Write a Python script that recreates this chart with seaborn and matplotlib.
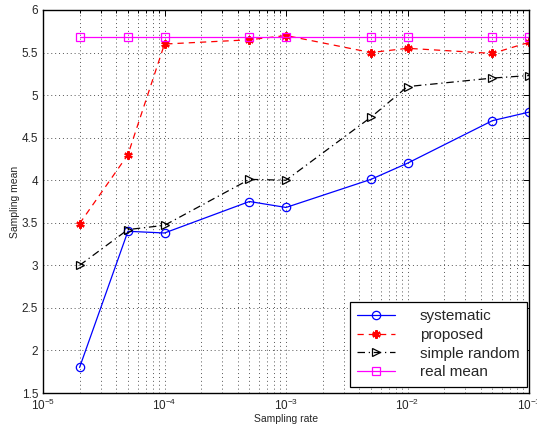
import matplotlib
matplotlib.use("Agg")
import matplotlib.pyplot as plt
import seaborn as sns
import pandas as pd
import numpy as np

# Sampling rates and mean estimates of each sampling scheme
rates = [2e-5, 5e-5, 1e-4, 5e-4, 1e-3, 5e-3, 1e-2, 5e-2, 1e-1]
systematic = [1.80, 3.40, 3.38, 3.75, 3.68, 4.01, 4.20, 4.70, 4.80]
proposed = [3.49, 4.30, 5.60, 5.65, 5.70, 5.50, 5.55, 5.49, 5.62]
simple_random = [3.00, 3.42, 3.47, 4.01, 4.00, 4.74, 5.10, 5.20, 5.23]
real_mean = [5.68] * len(rates)

series = [
    ("systematic", systematic, "#0000ff", "-", "o"),
    ("proposed", proposed, "#ff0000", (0, (5, 4)), "*"),
    ("simple random", simple_random, "#000000", (0, (6, 3, 1, 3)), ">"),
    ("real mean", real_mean, "#ff00ff", "-", "s"),
]

sns.set_style("white")
plt.rcParams["font.family"] = ["Liberation Sans", "DejaVu Sans"]

fig = plt.figure(figsize=(5.37, 4.32), dpi=100)
ax = fig.add_axes([43 / 537, 1 - 393 / 432, (529 - 43) / 537, (393 - 10) / 432])

for name, vals, color, ls, mk in series:
    df = pd.DataFrame({"rate": rates, "mean": vals})
    if mk == "*":
        kw = dict(marker=(6, 2, 0), markersize=6, markeredgewidth=1.6)
    else:
        kw = dict(marker=mk, markersize=6, markeredgewidth=0.9)
    sns.lineplot(
        data=df, x="rate", y="mean", ax=ax, color=color, linestyle=ls,
        linewidth=0.9, markerfacecolor="none", markeredgecolor=color,
        label=name, **kw,
    )

ax.set_xscale("log")
ax.set_xlim(1e-5, 1e-1)
ax.set_ylim(1.5, 6)
ax.set_yticks(np.arange(1.5, 6.01, 0.5))
ax.set_yticklabels(["1.5", "2", "2.5", "3", "3.5", "4", "4.5", "5", "5.5", "6"])

ax.grid(True, which="major", axis="both", color="#555555", linestyle=(0, (1, 3)), linewidth=0.7)
ax.grid(True, which="minor", axis="x", color="#555555", linestyle=(0, (1, 3)), linewidth=0.7)

ax.tick_params(which="both", direction="in", top=True, right=True, labelsize=8.5,
               color="black", width=0.7)
ax.tick_params(which="major", length=4)
ax.tick_params(which="minor", length=2)
for sp in ax.spines.values():
    sp.set_color("black")
    sp.set_linewidth(1.0)

ax.set_xlabel("Sampling rate", fontsize=7.5, labelpad=1)
ax.set_ylabel("Sampling mean", fontsize=7.5, labelpad=1)

leg = ax.legend(loc="lower right", bbox_to_anchor=(0.996, 0.016), borderaxespad=0,
                fontsize=11, frameon=True, fancybox=False,
                edgecolor="black", framealpha=1,
                handlelength=2.5, handletextpad=1.6, labelspacing=0.3,
                borderpad=0.5)
leg.get_frame().set_linewidth(0.9)

fig.savefig("out.png", dpi=100)
